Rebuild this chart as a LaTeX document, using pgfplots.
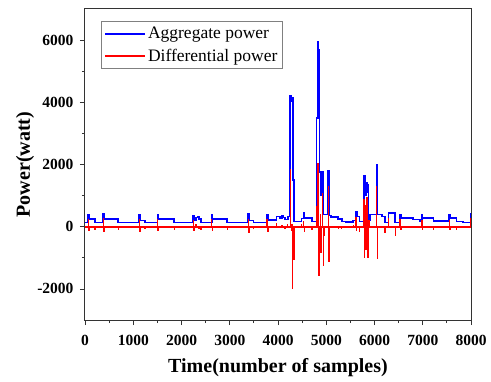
\documentclass[border=0pt]{standalone}
\usepackage{fontspec}
\setmainfont{Liberation Serif}
\usepackage{pgfplots}
\pgfplotsset{compat=1.18}
\begin{document}
\begin{tikzpicture}
\begin{axis}[
 name=ax,
 scale only axis,
 width=386pt, height=311pt,
 xmin=0, xmax=8000, ymin=-3000, ymax=7000,
 xtick={0,1000,...,8000},
 ytick={-2000,0,2000,4000,6000},
 minor x tick num=1, minor y tick num=1,
 tick align=outside,
 xtick pos=bottom, ytick pos=left,
 major tick length=5pt, minor tick length=3pt,
 axis line style={black!80, line width=1pt},
 every tick/.style={black!80, line width=0.8pt},
 /pgf/number format/assume math mode=true,
 /pgf/number format/1000 sep={},
 tick label style={font=\bfseries\fontsize{15.5}{18}\selectfont},
 xticklabel style={yshift=-7pt},
 yticklabel style={xshift=-3pt},
 xlabel={Time(number of samples)}, ylabel={Power(watt)},
 label style={font=\bfseries\fontsize{20}{24}\selectfont},
 xlabel style={at={(axis description cs:0.5,-0.154)}, anchor=center},
 ylabel style={at={(axis description cs:-0.155,0.5)}, anchor=center},
 legend style={at={(axis description cs:0.041,0.962)}, anchor=north west, draw=black!50, line width=0.8pt,
   font=\fontsize{17.5}{21}\selectfont, nodes={inner ysep=4.2pt, inner xsep=2pt}, row sep=0pt},
 legend cell align=left,
 legend image code/.code={\draw[#1] (0pt,0pt) -- (40pt,0pt);},
]
\addlegendimage{blue, line width=1.8pt}
\addlegendentry{Aggregate power}
\addlegendimage{red, line width=1.8pt}
\addlegendentry{Differential power}
\addplot[blue, line width=1.7pt, forget plot] coordinates {
(0,140) (68,140) (68,390) (80,390) (80,250) (207,250) (207,140) (380,140) (380,410) (395,410) (395,250)
(690,250) (690,140) (1125,140) (1125,380) (1140,380) (1140,200) (1245,200) (1245,140) (1500,140) (1500,380)
(1515,380) (1515,250) (1850,250) (1850,140) (2245,140) (2245,360) (2260,360) (2260,220) (2300,220) (2300,300)
(2330,300) (2330,320) (2360,320) (2360,250) (2400,250) (2400,140) (2625,140) (2625,380) (2640,380) (2640,250)
(2950,250) (2950,140) (3385,140) (3385,400) (3400,400) (3400,200) (3490,200) (3490,140) (3775,140) (3775,380)
(3790,380) (3790,225) (3970,225) (3970,330) (4040,330) (4040,290) (4080,290) (4080,350) (4110,350) (4110,300)
(4150,300) (4150,230) (4200,230) (4200,330) (4255,330) (4255,4200) (4275,4200) (4275,4050) (4290,4050)
(4290,4150) (4305,4150) (4305,1500) (4335,1500) (4335,170) (4490,170) (4490,260) (4530,260) (4530,440)
(4545,440) (4545,280) (4700,280) (4700,170) (4795,170) (4795,3500) (4825,3500) (4825,5950) (4840,5950)
(4840,5700) (4860,5700) (4860,1750) (4890,1750) (4890,1000) (4900,1000) (4900,1750) (4935,1750) (4935,390)
(5043,390) (5043,1780) (5055,1780) (5055,360) (5100,360) (5100,320) (5250,320) (5250,250) (5320,250)
(5320,170) (5400,170) (5400,150) (5560,150) (5560,200) (5617,200) (5617,490) (5630,490) (5630,330)
(5690,330) (5690,170) (5785,170) (5785,1650) (5800,1650) (5800,1400) (5810,1400) (5810,1000) (5820,1000)
(5820,1400) (5840,1400) (5840,1350) (5855,1350) (5855,1100) (5865,1100) (5865,1350) (5875,1350) (5875,200)
(5900,200) (5900,390) (6045,390) (6045,2000) (6058,2000) (6058,390) (6150,390) (6150,330) (6220,330)
(6220,140) (6290,140) (6290,430) (6430,430) (6430,140) (6530,140) (6530,380) (6545,380) (6545,280)
(6800,280) (6800,230) (6945,230) (6945,180) (6980,180) (6980,390) (6995,390) (6995,280) (7220,280)
(7220,180) (7550,180) (7550,380) (7565,380) (7565,270) (7700,270) (7700,170) (7840,170) (7840,140)
(7990,140) (7990,420) (8000,420)
};
\addplot[red, line width=1.6pt, forget plot] coordinates {(0,0) (8000,0)};
\addplot[red, line width=1.5pt, ycomb, forget plot] coordinates {
(68,250) (80,-140) (207,-110) (380,270) (395,-160) (690,-110) (1125,240) (1140,-180) (1245,-60)
(1500,240) (1515,-130) (1850,-110) (2245,220) (2260,-140) (2300,80) (2360,-70) (2400,-110)
(2625,240) (2640,-130) (2950,-110) (3385,260) (3400,-200) (3490,-60) (3775,240) (3790,-155)
(3970,105) (4040,-40) (4080,60) (4110,-50) (4150,-70) (4200,100)
(4255,1860) (4275,-150) (4290,100) (4305,-2000) (4322,-1060) (4335,-1060)
(4490,90) (4530,180) (4545,-160) (4700,-110)
(4800,650) (4825,2050) (4850,-1600) (4880,400) (4895,-850) (4925,1080) (4940,-1270) (4960,-300)
(5043,1300) (5058,-1150) (5100,-40) (5250,-70) (5320,-60) (5400,-30) (5560,40)
(5617,300) (5630,-150) (5690,-160) (5785,900) (5795,-1000) (5810,700) (5825,-750) (5840,950)
(5855,-700) (5865,-1000) (5875,200) (5900,220) (6045,1300) (6058,-1050)
(6150,-50) (6220,-190) (6290,290) (6430,-290) (6530,250) (6545,-110) (6800,-50) (6945,-50)
(6980,220) (6995,-110) (7220,-100) (7550,220) (7565,-110) (7700,-100) (7840,-30) (7990,280)
};
\end{axis}
\pgfresetboundingbox
\path ([xshift=-85pt,yshift=-61pt]ax.south west) rectangle ([xshift=20pt,yshift=9pt]ax.north east);
\end{tikzpicture}
\end{document}
